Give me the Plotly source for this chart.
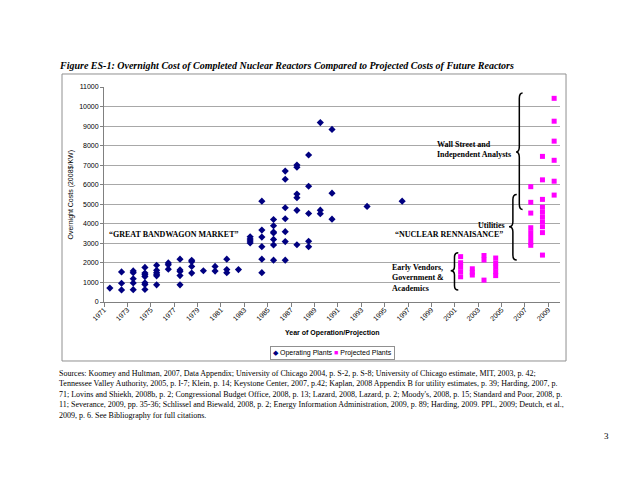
import plotly.graph_objects as go

# ---------------- data ----------------
op_years = [1971,
            1972, 1972, 1972,
            1973, 1973, 1973, 1973, 1973,
            1974, 1974, 1974, 1974, 1974, 1974, 1974,
            1975, 1975, 1975, 1975, 1975, 1975,
            1976, 1976, 1976,
            1977, 1977, 1977, 1977, 1977,
            1978, 1978, 1978, 1978,
            1979,
            1980, 1980,
            1981, 1981, 1981,
            1982,
            1983, 1983, 1983, 1983,
            1984, 1984, 1984, 1984, 1984, 1984,
            1985, 1985, 1985, 1985, 1985, 1985, 1985,
            1986, 1986, 1986, 1986, 1986, 1986, 1986,
            1987, 1987, 1987, 1987, 1987, 1987,
            1988, 1988, 1988, 1988, 1988,
            1989, 1989, 1989,
            1990, 1990, 1990,
            1993,
            1996]
op_costs = [710,
            1540, 960, 620,
            1590, 1500, 1190, 970, 630,
            1770, 1480, 1400, 1300, 980, 900, 640,
            1880, 1620, 1500, 1420, 1340, 880,
            2000, 1900, 1680,
            2190, 1640, 1560, 1350, 880,
            2130, 2060, 1820, 1480,
            1600,
            1820, 1580,
            2190, 1660, 1500,
            1660,
            3340, 3220, 3120, 3020,
            5160, 3680, 3320, 2830, 2190, 1500,
            4220, 3900, 3580, 3530, 3200, 2920, 2140,
            6700, 6280, 4820, 4260, 3600, 3090, 2140,
            7010, 6900, 5520, 5340, 4690, 2930,
            7520, 5920, 4530, 3110, 2830,
            9180, 4700, 4520,
            8830, 5570, 4240,
            4890,
            5160]

pr_years = [2001, 2001, 2001, 2001, 2001,
            2002, 2002, 2002,
            2003, 2003, 2003,
            2004, 2004, 2004, 2004, 2004,
            2007, 2007, 2007, 2007, 2007, 2007, 2007, 2007,
            2008, 2008, 2008, 2008, 2008, 2008, 2008, 2008, 2008, 2008,
            2009, 2009, 2009, 2009, 2009, 2009]
pr_costs = [2320, 2010, 1800, 1550, 1290,
            1700, 1520, 1380,
            2380, 2150, 1120,
            2250, 2000, 1780, 1550, 1350,
            5900, 5100, 4550, 3800, 3550, 3300, 3050, 2900,
            7450, 6250, 5250, 4850, 4600, 4350, 4100, 3850, 3550, 2400,
            10420, 9250, 8230, 7250, 6180, 5470]

tick_labels = [str(y) for y in range(1971, 2010, 2)]
tick_positions = [y - 0.5 for y in range(1971, 2010, 2)]

sources = [
    "Sources: Koomey and Hultman, 2007, Data Appendix; University of Chicago 2004, p. S-2, p. S-8; University of Chicago estimate, MIT, 2003, p. 42;",
    "Tennessee Valley Authority, 2005, p. I-7; Klein, p. 14; Keystone Center, 2007, p.42; Kaplan, 2008 Appendix B for utility estimates, p. 39; Harding, 2007, p.",
    "71; Lovins and Shiekh, 2008b, p. 2; Congressional Budget Office, 2008, p. 13; Lazard, 2008, Lazard, p. 2; Moody's, 2008, p. 15; Standard and Poor, 2008, p.",
    "11; Severance, 2009, pp. 35-36; Schlissel and Biewald, 2008, p. 2; Energy Information Administration, 2009, p. 89; Harding, 2009. PPL, 2009; Deutch, et al.,",
    "2009, p. 6. See Bibliography for full citations.",
]

NAVY = "#000080"
PINK = "#FF00FF"
SANS = "Liberation Sans, Arial, sans-serif"
SERIF = "Liberation Serif, Times New Roman, serif"

fig = go.Figure()
fig.add_trace(go.Scatter(x=op_years, y=op_costs, mode="markers", name="Operating Plants",
                         marker=dict(symbol="diamond", size=5.5, color=NAVY, line=dict(width=0)),
                         showlegend=False))
fig.add_trace(go.Scatter(x=pr_years, y=pr_costs, mode="markers", name="Projected Plants",
                         marker=dict(symbol="square", size=5, color=PINK, line=dict(width=0)),
                         showlegend=False))


def brace(x_tip, x_right, y_top, y_bot, y_mid, r):
    xm = (x_tip + x_right) / 2
    return (f"M {x_right},{y_top} Q {xm},{y_top} {xm},{y_top - r} "
            f"L {xm},{y_mid + r} Q {xm},{y_mid} {x_tip},{y_mid} "
            f"Q {xm},{y_mid} {xm},{y_mid - r} L {xm},{y_bot + r} "
            f"Q {xm},{y_bot} {x_right},{y_bot}")


shapes = [
    dict(type="path", xref="x", yref="y", path=brace(2005.74, 2006.3, 10695, 4737, 7680, 280),
         line=dict(color="black", width=1.5)),
    dict(type="path", xref="x", yref="y", path=brace(2005.14, 2005.8, 5503, 2146, 3848, 260),
         line=dict(color="black", width=1.5)),
    dict(type="path", xref="x", yref="y", path=brace(2000.15, 2000.8, 2519, 613, 1600, 220),
         line=dict(color="black", width=1.5)),
    dict(type="rect", xref="paper", yref="paper", x0=-0.0921, x1=1.0132, y0=-0.2744, y1=1.0605,
         line=dict(color="#909090", width=1), layer="below"),
]

ann_font = dict(family=SERIF, size=8, color="black")
annotations = [
    dict(x=1976.49, y=3475, xref="x", yref="y", text="<b>\u201cGREAT BANDWAGON MARKET\u201d</b>",
         showarrow=False, font=ann_font, xanchor="center", yanchor="middle"),
    dict(x=2000.0, y=3475, xref="x", yref="y", text="<b>\u201cNUCLEAR RENNAISANCE\u201d</b>",
         showarrow=False, font=ann_font, xanchor="center", yanchor="middle"),
    dict(x=2004.97, y=3935, xref="x", yref="y", text="<b>Utilities</b>",
         showarrow=False, font=ann_font, xanchor="right", yanchor="middle"),
    dict(x=1998.81, y=7818, xref="x", yref="y", text="<b>Wall Street and<br>Independent Analysts</b>",
         showarrow=False, font=ann_font, xanchor="left", yanchor="middle", align="left"),
    dict(x=1994.96, y=1252, xref="x", yref="y", text="<b>Early Vendors,<br>Government &amp;<br>Academics</b>",
         showarrow=False, font=ann_font, xanchor="left", yanchor="middle", align="left"),
    # axis titles
    dict(x=-0.0724, y=0.5, xref="paper", yref="paper", text="Overnight Costs (2008$/KW)", textangle=-90,
         showarrow=False, xanchor="center", yanchor="middle",
         font=dict(family=SANS, size=7, color="black")),
    dict(x=0.502, y=-0.144, xref="paper", yref="paper", text="<b>Year of Operation/Projection</b>",
         showarrow=False, xanchor="center", yanchor="middle",
         font=dict(family=SANS, size=7, color="black")),
    # legend
    dict(x=0.502, y=-0.235, xref="paper", yref="paper", xanchor="center", yanchor="middle",
         text=f"<span style='color:{NAVY}'>\u25c6</span> Operating Plants "
              f"<span style='color:{PINK}'>\u25a0</span> Projected Plants",
         showarrow=False, font=dict(family=SANS, size=7, color="black"),
         bordercolor="#909090", borderwidth=1, borderpad=2, bgcolor="white"),
    # title
    dict(x=-0.1031, y=1.1023, xref="paper", yref="paper", xanchor="left", yanchor="middle",
         text="<b><i>Figure ES-1: Overnight Cost of Completed Nuclear Reactors Compared to Projected Costs of Future Reactors</i></b>",
         showarrow=False, font=dict(family=SERIF, size=10, color="black")),
    # sources
    dict(x=-0.1031, y=-0.428, xref="paper", yref="paper", xanchor="left", yanchor="middle", align="left",
         text="<br>".join(sources), showarrow=False, font=dict(family=SERIF, size=8, color="black")),
    # page number
    dict(x=1.103, y=-0.623, xref="paper", yref="paper", xanchor="center", yanchor="middle",
         text="3", showarrow=False, font=dict(family=SERIF, size=9, color="black")),
]

# the page body has an 8px default margin, so the figure is laid out 8px up/left
fig.update_layout(
    width=632, height=478,
    margin=dict(l=96, r=80, t=79, b=184, autoexpand=False),
    paper_bgcolor="white", plot_bgcolor="white",
    shapes=shapes, annotations=annotations,
    showlegend=False,
    xaxis=dict(range=[1970.5, 2009.5], tickmode="array", tickvals=tick_positions, ticktext=tick_labels,
               tickangle=-45, ticks="outside", ticklen=4, tickcolor="#808080", ticklabelstandoff=-4,
               showline=True, linecolor="#808080", linewidth=1, showgrid=False, zeroline=False,
               tickfont=dict(family=SANS, size=7, color="black")),
    yaxis=dict(range=[0, 11000], dtick=1000, tickformat="d", ticks="outside", ticklen=3, tickcolor="#808080",
               showline=True, linecolor="#808080", linewidth=1, showgrid=True, gridcolor="#a8a8a8",
               gridwidth=1, zeroline=False, tickfont=dict(family=SANS, size=7, color="black")),
)

fig.write_html("out.html")
